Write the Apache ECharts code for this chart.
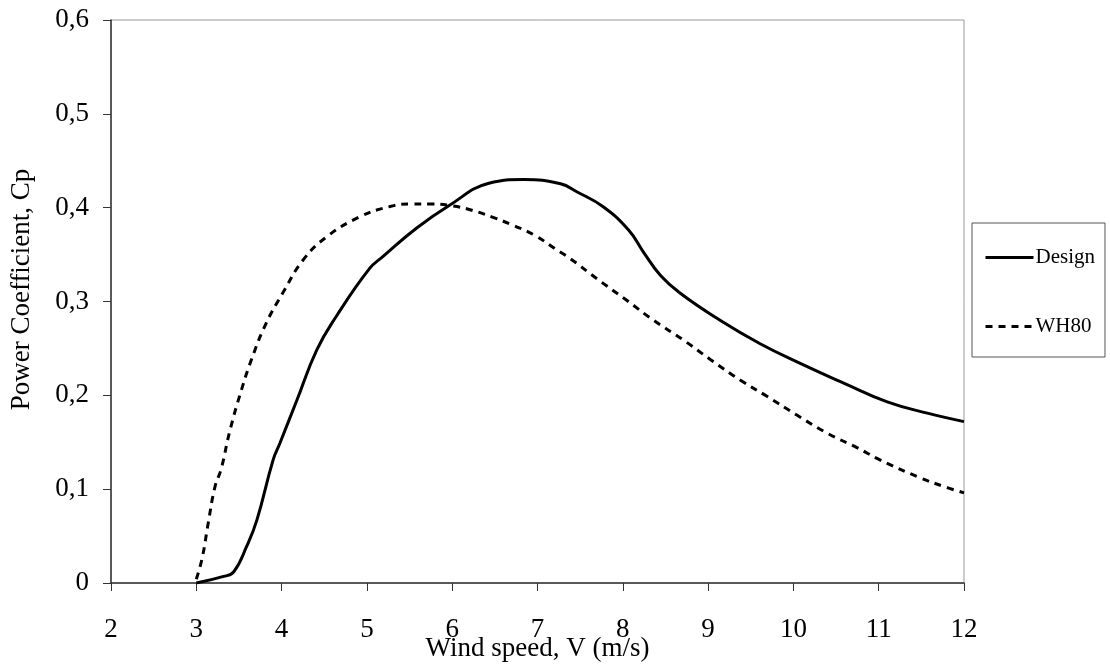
<!DOCTYPE html>
<html>
<head>
<meta charset="utf-8">
<script src="https://cdn.jsdelivr.net/npm/echarts@6/dist/echarts.min.js"></script>
<style>html,body{margin:0;padding:0;background:#fff}#c{width:1110px;height:671px}</style>
</head>
<body>
<div id="c"></div>
<script>
const designX = [3.0, 3.32, 3.44, 3.59, 3.71, 3.90, 3.98, 4.18, 4.41, 4.64, 5.03, 5.19, 5.58, 5.96, 6.43, 6.84, 7.27, 7.46, 7.77, 8.07, 8.24, 8.44, 8.67, 9.14, 9.61, 10.08, 10.59, 11.10, 11.57, 12.0];
const designY = [0.0, 0.007, 0.012, 0.039, 0.067, 0.131, 0.149, 0.195, 0.248, 0.284, 0.335, 0.348, 0.378, 0.402, 0.426, 0.430, 0.4255, 0.417, 0.401, 0.376, 0.353, 0.328, 0.309, 0.280, 0.255, 0.234, 0.213, 0.193, 0.181, 0.172];
const wh80X = [3.0, 3.07, 3.14, 3.22, 3.29, 3.39, 3.51, 3.65, 3.82, 4.02, 4.25, 4.53, 4.91, 5.26, 5.52, 5.73, 6.00, 6.24, 6.47, 6.72, 6.96, 7.21, 7.38, 7.70, 8.05, 8.36, 8.71, 9.03, 9.38, 9.69, 10.04, 10.39, 10.75, 11.02, 11.49, 11.76, 12.0];
const wh80Y = [0.004, 0.027, 0.064, 0.103, 0.121, 0.161, 0.200, 0.239, 0.277, 0.310, 0.344, 0.369, 0.390, 0.401, 0.404, 0.404, 0.402, 0.397, 0.390, 0.381, 0.371, 0.356, 0.346, 0.324, 0.301, 0.280, 0.259, 0.238, 0.216, 0.199, 0.179, 0.160, 0.144, 0.131, 0.112, 0.103, 0.096];
const seriesNames = ['Design', 'WH80'];
const xTitle = 'Wind speed, V (m/s)';
const yTitle = 'Power Coefficient, Cp';

const font = "'Liberation Serif', 'Times New Roman', serif";
const zip = (xs, ys) => xs.map((x, i) => [x, ys[i]]);
const dash = [7, 6];

const chart = echarts.init(document.getElementById('c'), null, {renderer: 'canvas'});
chart.setOption({
  animation: false,
  backgroundColor: '#fff',
  grid: {left: 111, right: 146, top: 20, bottom: 88, show: true, borderColor: '#999', borderWidth: 1,
         containLabel: false, outerBoundsMode: 'none'},
  legend: {
    orient: 'vertical', left: 972, top: 223,
    padding: [24, 10, 20, 12], itemGap: 48, itemWidth: 48, itemHeight: 14,
    borderColor: '#555', borderWidth: 1,
    itemStyle: {opacity: 0},
    textStyle: {fontFamily: font, fontSize: 21, color: '#000', padding: [0,0,0,-3]},
    data: [
      {name: seriesNames[0], lineStyle: {color: '#000', width: 3, type: 'solid'}},
      {name: seriesNames[1], lineStyle: {color: '#000', width: 3, type: dash}}
    ]
  },
  xAxis: {
    type: 'value', min: 2, max: 12, interval: 1,
    name: xTitle, nameLocation: 'middle', nameGap: 52, nameMoveOverlap: false,
    nameTextStyle: {fontFamily: font, fontSize: 27, color: '#000'},
    axisLine: {show: true, lineStyle: {color: '#333', width: 1.5}},
    axisTick: {show: true, inside: false, length: 8, lineStyle: {color: '#333', width: 1}},
    axisLabel: {margin: 33, fontFamily: font, fontSize: 27, color: '#000'},
    splitLine: {show: false}
  },
  yAxis: {
    type: 'value', min: 0, max: 0.6, interval: 0.1,
    name: yTitle, nameLocation: 'middle', nameGap: 76, nameRotate: 90, nameMoveOverlap: false,
    nameTextStyle: {fontFamily: font, fontSize: 27, color: '#000', padding: [0, 0, 0, 24]},
    axisLine: {show: true, lineStyle: {color: '#333', width: 1.5}},
    axisTick: {show: true, inside: false, length: 8, lineStyle: {color: '#333', width: 1}},
    axisLabel: {margin: 22, fontFamily: font, fontSize: 27, color: '#000',
      formatter: v => v === 0 ? '0' : v.toFixed(1).replace('.', ',')},
    splitLine: {show: false}
  },
  series: [
    {name: seriesNames[0], type: 'line', data: zip(designX, designY), smooth: 0.45,
     showSymbol: false, symbol: 'none', lineStyle: {color: '#000', width: 3}, itemStyle: {color: '#000'}},
    {name: seriesNames[1], type: 'line', data: zip(wh80X, wh80Y), smooth: 0.45,
     showSymbol: false, symbol: 'none', lineStyle: {color: '#000', width: 3, type: dash}, itemStyle: {color: '#000'}}
  ]
});
</script>
</body>
</html>
